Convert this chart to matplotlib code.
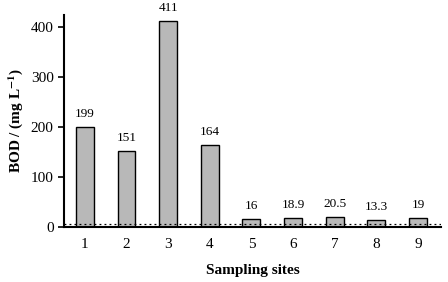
import matplotlib
matplotlib.use("Agg")
import matplotlib.pyplot as plt

sites = ["1", "2", "3", "4", "5", "6", "7", "8", "9"]
bod = [199, 151, 411, 164, 16, 18.9, 20.5, 13.3, 19]
labels = ["199", "151", "411", "164", "16", "18.9", "20.5", "13.3", "19"]
limit = 6

plt.rcParams['font.family'] = ['Liberation Serif', 'DejaVu Serif']
plt.rcParams['mathtext.fontset'] = 'stix'

fig = plt.figure(figsize=(4.48, 2.82), dpi=100)
ax = fig.add_axes([0.143, 0.195, 0.841, 0.752])
x = list(range(1, len(sites) + 1))
ax.bar(x, bod, width=0.43, color='#b8b8b8', edgecolor='black', linewidth=1.0, zorder=2)
for xi, v, t in zip(x, bod, labels):
    ax.text(xi, v + 14, t, ha='center', va='bottom', fontsize=9.5)
ax.axhline(limit, color='black', linestyle=(0, (1.5, 2.5)), linewidth=0.9, zorder=3)

ax.set_xlim(0.5, 9.55)
ax.set_ylim(0, 424)
ax.set_xticks(x)
ax.set_xticklabels(sites, fontsize=11)
ax.set_yticks([0, 100, 200, 300, 400])
ax.tick_params(axis='y', labelsize=11, length=4, width=1.2, direction='out')
ax.tick_params(axis='x', length=0, pad=8)
for s in ['top', 'right']:
    ax.spines[s].set_visible(False)
ax.spines['left'].set_linewidth(1.5)
ax.spines['bottom'].set_linewidth(1.5)
ax.set_ylabel('BOD / (mg L$^{\\mathbf{-1}}$)', fontsize=11, fontweight='bold', labelpad=4)
ax.set_xlabel('Sampling sites', fontsize=11, fontweight='bold', labelpad=9)
fig.savefig('out.png', dpi=100)
